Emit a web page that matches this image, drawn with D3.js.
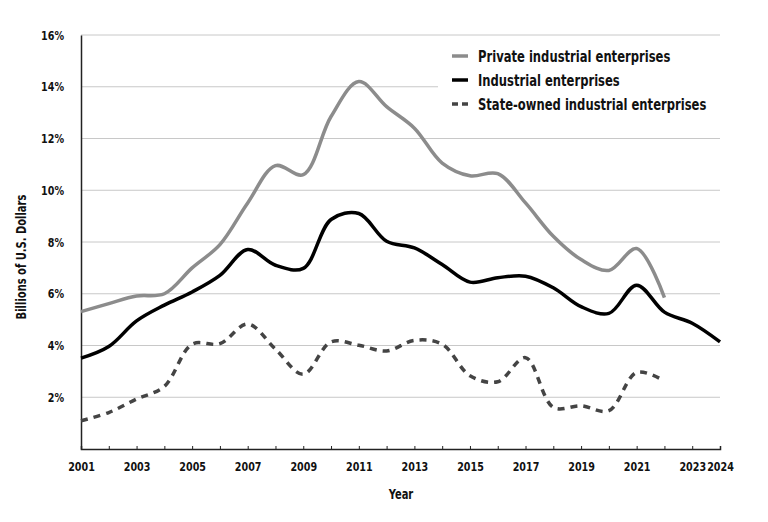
<!DOCTYPE html>
<html>
<head>
<meta charset="utf-8">
<script src="https://cdn.jsdelivr.net/npm/d3@7/dist/d3.min.js"></script>
<style>
  html, body { margin: 0; padding: 0; background: #fff; }
  svg text { font-family: "DejaVu Sans Condensed", "DejaVu Sans", sans-serif; font-weight: bold; fill: #111; }
</style>
</head>
<body>
<svg id="chart" width="768" height="522"></svg>
<script>
const years = d3.range(2001, 2025);
const xTickLabels = [2001, 2003, 2005, 2007, 2009, 2011, 2013, 2015, 2017, 2019, 2021, 2023, 2024];
const yTicks = [2, 4, 6, 8, 10, 12, 14, 16];

const seriesNames = ["Private industrial enterprises", "Industrial enterprises", "State-owned industrial enterprises"];

// 2001..2022
const privateVals = [5.31, 5.62, 5.91, 6.0, 7.0, 7.9, 9.51, 10.95, 10.6, 12.85, 14.2, 13.23, 12.4, 11.05, 10.56, 10.64, 9.51, 8.22, 7.32, 6.9, 7.75, 5.85];
// 2001..2024
const industrialVals = [3.51, 3.96, 4.95, 5.56, 6.07, 6.71, 7.71, 7.1, 6.98, 8.87, 9.1, 8.03, 7.77, 7.13, 6.45, 6.62, 6.68, 6.23, 5.5, 5.24, 6.33, 5.29, 4.86, 4.14];
// 2001..2022
const stateVals = [1.09, 1.41, 1.93, 2.42, 4.05, 4.07, 4.83, 3.86, 2.89, 4.14, 4.01, 3.79, 4.2, 4.05, 2.83, 2.6, 3.53, 1.61, 1.67, 1.48, 2.96, 2.63];

const svg = d3.select("#chart");
const margin = {left: 81, right: 48, top: 35, bottom: 73};
const W = 768, H = 522;
const SX = 0.82; // horizontal condensing of text

const x = d3.scaleLinear().domain([2001, 2024]).range([margin.left, W - margin.right]);
const y = d3.scaleLinear().domain([0, 16]).range([H - margin.bottom, margin.top]);

// gridlines
svg.append("g").selectAll("line").data(yTicks).join("line")
  .attr("x1", margin.left).attr("x2", W - margin.right)
  .attr("y1", d => y(d)).attr("y2", d => y(d))
  .attr("stroke", "#c8c8c8").attr("stroke-width", 1);

// y axis
const yAxis = svg.append("g").attr("transform", `translate(${margin.left},0)`)
  .call(d3.axisLeft(y).tickValues(yTicks).tickSize(0).tickPadding(0).tickFormat(d => d + "%"));
yAxis.select(".domain").attr("stroke", "#222").attr("stroke-width", 1.5);
yAxis.selectAll(".tick text").attr("font-size", 13).attr("x", null)
  .attr("transform", `translate(-17,0) scale(${SX},1)`);

// x axis
const xAxis = svg.append("g").attr("transform", `translate(0,${y(0)})`)
  .call(d3.axisBottom(x).tickValues(years).tickSize(-3).tickFormat(d => xTickLabels.includes(d) ? d : ""));
xAxis.select(".domain").attr("stroke", "#222").attr("stroke-width", 1.5);
xAxis.selectAll(".tick line").attr("stroke", "#222");
xAxis.selectAll(".tick text").attr("font-size", 13).attr("y", 13).attr("dy", "0.71em")
  .attr("transform", `scale(${SX},1)`);

// lines
const line = d3.line().x((d, i) => x(2001 + i)).y(d => y(d)).curve(d3.curveCatmullRom.alpha(0.5));

svg.append("path").datum(stateVals).attr("d", line)
  .attr("fill", "none").attr("stroke", "#444").attr("stroke-width", 3.5).attr("stroke-dasharray", "7,6");
svg.append("path").datum(privateVals).attr("d", line)
  .attr("fill", "none").attr("stroke", "#8c8c8c").attr("stroke-width", 3.5);
svg.append("path").datum(industrialVals).attr("d", line)
  .attr("fill", "none").attr("stroke", "#000").attr("stroke-width", 3.5);

// legend
const lg = svg.append("g");
lg.append("rect").attr("x", 438).attr("y", 40).attr("width", 290).attr("height", 78).attr("fill", "#fff");
const legStyles = [
  {color: "#8c8c8c", dash: null},
  {color: "#000", dash: null},
  {color: "#444", dash: "6,4"}
];
seriesNames.forEach((name, i) => {
  const ly = 56 + i * 24;
  lg.append("line").attr("x1", 452).attr("x2", 468).attr("y1", ly).attr("y2", ly)
    .attr("stroke", legStyles[i].color).attr("stroke-width", 3.5)
    .attr("stroke-dasharray", legStyles[i].dash);
  lg.append("text").attr("transform", `translate(478,${ly}) scale(${SX},1)`).attr("dy", "0.36em")
    .attr("font-size", 15.7).text(name);
});

// axis titles
svg.append("text").attr("transform", `translate(26,${(y(0) + y(16)) / 2 + 15}) rotate(-90) scale(${SX},1)`)
  .attr("text-anchor", "middle").attr("font-size", 13.5).text("Billions of U.S. Dollars");
svg.append("text").attr("transform", `translate(401,499) scale(${SX},1)`).attr("text-anchor", "middle")
  .attr("font-size", 13.5).text("Year");
</script>
</body>
</html>
